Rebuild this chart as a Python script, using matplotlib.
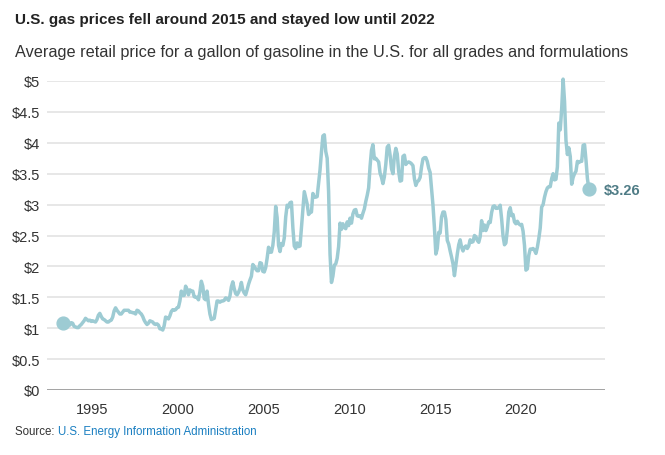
import matplotlib
matplotlib.use("Agg")
import matplotlib.pyplot as plt
import numpy as np

# monthly average retail price, all grades / all formulations, Apr 1993 .. Dec 2023
start_year = 1993
start_month = 4
prices = [
    1.08, 1.10, 1.10, 1.08, 1.06, 1.05, 1.09, 1.08, 1.03,                    # 1993
    1.02, 1.01, 1.01, 1.04, 1.06, 1.09, 1.12, 1.16, 1.14, 1.12, 1.13, 1.11,  # 1994
    1.12, 1.11, 1.10, 1.14, 1.21, 1.24, 1.19, 1.15, 1.14, 1.12, 1.10, 1.10,  # 1995
    1.12, 1.13, 1.18, 1.28, 1.33, 1.29, 1.26, 1.23, 1.23, 1.26, 1.29, 1.29,  # 1996
    1.29, 1.29, 1.26, 1.26, 1.25, 1.25, 1.23, 1.29, 1.28, 1.25, 1.23, 1.19,  # 1997
    1.13, 1.09, 1.06, 1.08, 1.12, 1.11, 1.10, 1.07, 1.06, 1.07, 1.05, 0.99,  # 1998
    0.99, 0.97, 1.04, 1.18, 1.17, 1.15, 1.20, 1.27, 1.30, 1.29, 1.30, 1.33,  # 1999
    1.34, 1.44, 1.60, 1.53, 1.53, 1.68, 1.63, 1.54, 1.62, 1.60, 1.60, 1.51,  # 2000
    1.50, 1.50, 1.46, 1.59, 1.76, 1.68, 1.48, 1.46, 1.60, 1.39, 1.23, 1.14,  # 2001
    1.15, 1.16, 1.30, 1.44, 1.44, 1.42, 1.44, 1.44, 1.45, 1.49, 1.48, 1.45,  # 2002
    1.52, 1.67, 1.75, 1.64, 1.56, 1.54, 1.58, 1.64, 1.74, 1.62, 1.57, 1.54,  # 2003
    1.62, 1.71, 1.78, 1.84, 2.03, 2.00, 1.96, 1.93, 1.93, 2.06, 2.05, 1.92,  # 2004
    1.91, 1.98, 2.13, 2.31, 2.23, 2.23, 2.34, 2.56, 2.97, 2.79, 2.34, 2.24,  # 2005
    2.37, 2.34, 2.46, 2.80, 2.99, 2.96, 3.03, 3.04, 2.63, 2.33, 2.29, 2.38,  # 2006
    2.32, 2.33, 2.62, 2.93, 3.21, 3.11, 3.01, 2.84, 2.87, 2.88, 3.18, 3.12,  # 2007
    3.12, 3.13, 3.34, 3.56, 3.85, 4.11, 4.13, 3.86, 3.75, 3.21, 2.20, 1.74,  # 2008
    1.84, 2.02, 2.04, 2.13, 2.32, 2.70, 2.60, 2.69, 2.63, 2.61, 2.72, 2.66,  # 2009
    2.78, 2.70, 2.85, 2.91, 2.92, 2.82, 2.81, 2.82, 2.78, 2.86, 2.93, 3.05,  # 2010
    3.15, 3.27, 3.62, 3.88, 3.97, 3.74, 3.75, 3.72, 3.69, 3.51, 3.44, 3.34,  # 2011
    3.45, 3.65, 3.93, 3.96, 3.80, 3.58, 3.50, 3.78, 3.91, 3.82, 3.54, 3.38,  # 2012
    3.39, 3.78, 3.80, 3.65, 3.68, 3.69, 3.68, 3.66, 3.63, 3.42, 3.31, 3.37,  # 2013
    3.39, 3.44, 3.61, 3.74, 3.76, 3.76, 3.70, 3.59, 3.52, 3.26, 2.99, 2.63,  # 2014
    2.20, 2.29, 2.55, 2.54, 2.80, 2.88, 2.88, 2.76, 2.42, 2.36, 2.25, 2.15,  # 2015
    2.04, 1.85, 2.03, 2.20, 2.35, 2.43, 2.31, 2.25, 2.31, 2.33, 2.29, 2.33,  # 2016
    2.43, 2.39, 2.40, 2.50, 2.48, 2.42, 2.39, 2.48, 2.74, 2.58, 2.67, 2.58,  # 2017
    2.64, 2.72, 2.71, 2.87, 2.97, 2.98, 2.94, 2.94, 2.95, 2.99, 2.77, 2.49,  # 2018
    2.35, 2.38, 2.59, 2.88, 2.95, 2.82, 2.84, 2.72, 2.69, 2.73, 2.69, 2.67,  # 2019
    2.68, 2.57, 2.34, 1.94, 1.96, 2.18, 2.28, 2.28, 2.29, 2.26, 2.21, 2.31,  # 2020
    2.45, 2.62, 2.96, 3.00, 3.12, 3.21, 3.27, 3.29, 3.29, 3.42, 3.50, 3.40,  # 2021
    3.41, 3.61, 4.32, 4.21, 4.55, 5.03, 4.67, 4.04, 3.81, 3.92, 3.78, 3.33,  # 2022
    3.44, 3.50, 3.54, 3.70, 3.68, 3.70, 3.70, 3.96, 3.97, 3.72, 3.42, 3.26,  # 2023
]

year_ticks = [1995, 2000, 2005, 2010, 2015, 2020]
price_ticks = [0, 0.5, 1, 1.5, 2, 2.5, 3, 3.5, 4, 4.5, 5]
price_labels = ["$0", "$0.5", "$1", "$1.5", "$2", "$2.5", "$3", "$3.5", "$4", "$4.5", "$5"]
end_label = "$3.26"

months = np.arange(len(prices))
x = start_year + (start_month - 1 + months) / 12 + 1 / 24
y = np.array(prices)

line_col = "#9dcbd3"
plt.rcParams["font.family"] = ["Liberation Sans", "DejaVu Sans"]

fig = plt.figure(figsize=(6.65, 4.56), dpi=100)
ax = fig.add_axes([47 / 665, 1 - 391 / 456, (605 - 47) / 665, (391 - 82) / 456])

for t in price_ticks[1:]:
    ax.axhline(t, color="#e3e3e3", lw=1.2, zorder=0)
ax.axhline(0, color="#9a9a9a", lw=2, zorder=1)

ax.plot(x, y, color=line_col, lw=2.5, solid_joinstyle="round", zorder=3, clip_on=False)
ax.scatter([x[0], x[-1]], [y[0], y[-1]], s=85, color=line_col, zorder=4, clip_on=False)
ax.text(x[-1] + 0.9, y[-1] - 0.02, end_label, color="#4f7c86", fontsize=10.5, fontweight="bold",
        va="center", ha="left")

ax.set_xlim(1992.38, 2024.9)
ax.set_ylim(0, 5)
ax.set_xticks(year_ticks)
ax.set_xticklabels([str(v) for v in year_ticks])
ax.set_yticks(price_ticks)
ax.set_yticklabels(price_labels)
ax.tick_params(length=0, labelsize=10.5, colors="#333333")
ax.tick_params(axis="x", pad=9)
ax.tick_params(axis="y", pad=5)
for s in ax.spines.values():
    s.set_visible(False)


def fit(txt, width_px):
    # shrink/grow a text so it spans the same width as in the reference
    fig.canvas.draw()
    w = txt.get_window_extent().width
    txt.set_fontsize(txt.get_fontsize() * width_px / w)


title = fig.text(15 / 665, 1 - 20 / 456, "U.S. gas prices fell around 2015 and stayed low until 2022",
                 fontsize=14, fontweight="bold", color="#222222", va="center", ha="left")
fit(title, 418)
sub = fig.text(15 / 665, 1 - 52 / 456,
               "Average retail price for a gallon of gasoline in the U.S. for all grades and formulations",
               fontsize=12, color="#333333", va="center", ha="left")
fit(sub, 613)
src = fig.text(15 / 665, 1 - 432 / 456, "Source: ", fontsize=8.3, color="#333333",
               va="center", ha="left")
fig.canvas.draw()
bb = src.get_window_extent()
fig.text(bb.x1 / fig.bbox.width, 1 - 432 / 456, "U.S. Energy Information Administration",
         fontsize=8.3, color="#1a7fc1", va="center", ha="left")

fig.savefig("out.png", dpi=100)
